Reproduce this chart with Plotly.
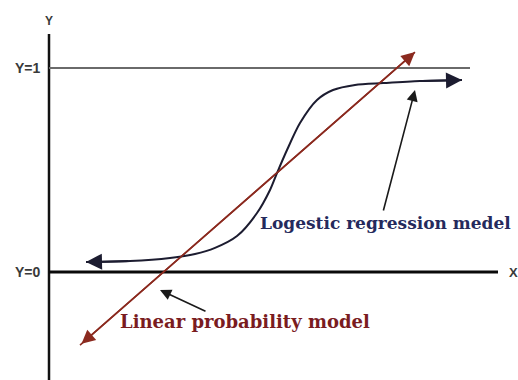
import plotly.graph_objects as go

# ---- data (chart units: Y=0 / Y=1 levels, x measured from the Y axis) ----
logit_x = [0.925, 2.025, 3.025, 3.65, 4.15, 4.70, 5.20, 5.525, 5.70, 5.95, 6.275, 6.70, 7.10, 7.65, 8.35, 9.275, 10.325]
logit_y = [0.049, 0.054, 0.069, 0.088, 0.118, 0.176, 0.289, 0.402, 0.485, 0.598, 0.730, 0.843, 0.892, 0.917, 0.926, 0.936, 0.941]

linear_x = [0.775, 9.15]
linear_y = [-0.358, 1.078]

axis_y_range = [-0.53, 1.167]
y1_line_x = [0, 10.525]
y0_line_x = [0, 11.225]

level_labels = ["Y=1", "Y=0"]
level_values = [1.0, 0.0]

logit_label = "Logestic regression medel"
logit_label_pos = [8.4, 0.240]
logit_arrow_tail = [8.35, 0.294]
logit_arrow_tip = [9.15, 0.892]

linear_label = "Linear probability model"
linear_label_pos = [4.9, -0.245]
linear_arrow_tail = [3.95, -0.196]
linear_arrow_tip = [2.775, -0.088]

LOGIT_COLOR = "#1c1c30"
LINEAR_COLOR = "#8b2a1f"
LOGIT_TEXT = "#252a5c"
LINEAR_TEXT = "#7a1c1f"

fig = go.Figure()

# axes lines
fig.add_trace(go.Scatter(x=[0, 0], y=axis_y_range, mode="lines",
                         line=dict(color="#111111", width=2.5), hoverinfo="skip"))
fig.add_trace(go.Scatter(x=y1_line_x, y=[1, 1], mode="lines",
                         line=dict(color="#6a6a6a", width=2), hoverinfo="skip"))
fig.add_trace(go.Scatter(x=y0_line_x, y=[0, 0], mode="lines",
                         line=dict(color="#0a0a0a", width=3.2), hoverinfo="skip"))

# linear probability model line
fig.add_trace(go.Scatter(x=linear_x, y=linear_y, mode="lines",
                         line=dict(color=LINEAR_COLOR, width=1.6), hoverinfo="skip"))
# logistic curve
fig.add_trace(go.Scatter(x=logit_x, y=logit_y, mode="lines",
                         line=dict(color=LOGIT_COLOR, width=2, shape="spline", smoothing=0.8),
                         hoverinfo="skip"))

ann = []
# arrowheads for linear line
ann.append(dict(x=linear_x[1], y=linear_y[1], ax=linear_x[0], ay=linear_y[0],
                xref="x", yref="y", axref="x", ayref="y", text="", showarrow=True,
                arrowhead=2, arrowside="end+start", arrowsize=1.7, arrowwidth=1.6,
                arrowcolor=LINEAR_COLOR, standoff=0, startstandoff=0))
# arrowheads for logistic curve ends
ann.append(dict(x=logit_x[0], y=logit_y[0], ax=logit_x[1], ay=logit_y[1],
                xref="x", yref="y", axref="x", ayref="y", text="", showarrow=True,
                arrowhead=2, arrowsize=1.6, arrowwidth=2, arrowcolor=LOGIT_COLOR))
ann.append(dict(x=logit_x[-1], y=logit_y[-1], ax=logit_x[-2], ay=logit_y[-2],
                xref="x", yref="y", axref="x", ayref="y", text="", showarrow=True,
                arrowhead=2, arrowsize=1.6, arrowwidth=2, arrowcolor=LOGIT_COLOR))
# pointer arrows
ann.append(dict(x=logit_arrow_tip[0], y=logit_arrow_tip[1], ax=logit_arrow_tail[0], ay=logit_arrow_tail[1],
                xref="x", yref="y", axref="x", ayref="y", text="", showarrow=True,
                arrowhead=2, arrowsize=1.4, arrowwidth=1.6, arrowcolor="#1a1a1a"))
ann.append(dict(x=linear_arrow_tip[0], y=linear_arrow_tip[1], ax=linear_arrow_tail[0], ay=linear_arrow_tail[1],
                xref="x", yref="y", axref="x", ayref="y", text="", showarrow=True,
                arrowhead=2, arrowsize=1.4, arrowwidth=1.6, arrowcolor="#1a1a1a"))
# labels
ann.append(dict(x=logit_label_pos[0], y=logit_label_pos[1], xref="x", yref="y", text=f"<b>{logit_label}</b>",
                showarrow=False, font=dict(family="DejaVu Serif", size=17, color=LOGIT_TEXT)))
ann.append(dict(x=linear_label_pos[0], y=linear_label_pos[1], xref="x", yref="y", text=f"<b>{linear_label}</b>",
                showarrow=False, font=dict(family="DejaVu Serif", size=18, color=LINEAR_TEXT)))
# axis texts
for lab, val in zip(level_labels, level_values):
    ann.append(dict(x=-0.15, y=val, xref="x", yref="y", text=f"<b>{lab}</b>", showarrow=False,
                    xanchor="right", font=dict(family="Liberation Sans", size=14, color="#3a3a3a")))
ann.append(dict(x=0, y=1.23, xref="x", yref="y", text="<b>Y</b>", showarrow=False,
                font=dict(family="Liberation Sans", size=12, color="#3a3a3a")))
ann.append(dict(x=11.6, y=0, xref="x", yref="y", text="<b>X</b>", showarrow=False,
                font=dict(family="Liberation Sans", size=13, color="#3a3a3a")))

fig.update_layout(
    width=518, height=380,
    margin=dict(l=0, r=0, t=0, b=0),
    paper_bgcolor="white", plot_bgcolor="white",
    showlegend=False,
    xaxis=dict(range=[-1.225, 11.725], visible=False, fixedrange=True),
    yaxis=dict(range=[-0.5294, 1.3333], visible=False, fixedrange=True),
    annotations=ann,
)

fig.write_html("out.html", config={"displayModeBar": False},
               post_script="document.body.style.margin='0';document.body.style.overflow='hidden';")
